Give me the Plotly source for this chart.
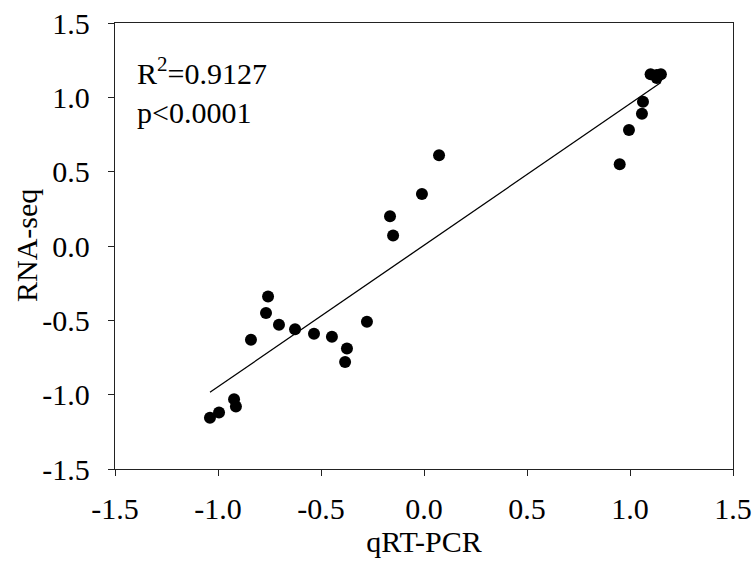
import numpy as np
import plotly.graph_objects as go

qrt_pcr = [-1.039, -0.995, -0.922, -0.913, -0.840, -0.767, -0.757, -0.704, -0.626,
           -0.534, -0.447, -0.374, -0.383, -0.277, -0.165, -0.150, -0.010, 0.073,
           0.950, 0.995, 1.058, 1.063, 1.100, 1.130, 1.150, 1.130]
rna_seq = [-1.155, -1.120, -1.030, -1.080, -0.630, -0.450, -0.340, -0.530, -0.560,
           -0.590, -0.610, -0.690, -0.780, -0.510, 0.200, 0.070, 0.350, 0.610,
           0.550, 0.780, 0.890, 0.970, 1.155, 1.150, 1.155, 1.130]
tick_vals = [-1.5, -1.0, -0.5, 0.0, 0.5, 1.0, 1.5]
tick_text = ["-1.5", "-1.0", "-0.5", "0.0", "0.5", "1.0", "1.5"]

slope, intercept = np.polyfit(qrt_pcr, rna_seq, 1)
xl = np.array([min(qrt_pcr), max(qrt_pcr)])
yl = slope * xl + intercept

FONT = "Liberation Serif"
FS = 30

fig = go.Figure()
fig.add_trace(go.Scatter(x=xl, y=yl, mode="lines",
                         line=dict(color="black", width=1.3), showlegend=False))
fig.add_trace(go.Scatter(x=qrt_pcr, y=rna_seq, mode="markers",
                         marker=dict(color="black", size=12), showlegend=False))

axis_common = dict(range=[-1.5, 1.5], tickvals=tick_vals, ticktext=tick_text,
                   showgrid=False, zeroline=False, showline=True, linecolor="#222",
                   linewidth=1.3, mirror=True, ticks="outside", ticklen=6,
                   tickcolor="#222", tickwidth=1.2, ticklabeloverflow="allow",
                   automargin=False,
                   tickfont=dict(family=FONT, size=FS, color="black"))
fig.update_xaxes(**axis_common, ticklabelstandoff=7,
                 title=dict(text="qRT-PCR", font=dict(family=FONT, size=FS, color="black"), standoff=4))
fig.update_yaxes(**axis_common, ticklabelstandoff=12)

fig.add_annotation(xref="paper", yref="paper", x=-0.144, y=0.5, xanchor="center", yanchor="middle",
                   text="RNA-seq", textangle=-90, showarrow=False,
                   font=dict(family=FONT, size=FS, color="black"))
fig.add_annotation(xref="paper", yref="paper", x=0.033, y=0.94, xanchor="left", yanchor="top",
                   text="R<sup>2</sup>=0.9127<br>p&lt;0.0001", showarrow=False, align="left",
                   font=dict(family=FONT, size=FS, color="black"))

fig.update_layout(width=755, height=568, margin=dict(l=115, r=22, t=23, b=99, autoexpand=False),
                  plot_bgcolor="white", paper_bgcolor="white")
fig.write_html("out.html", config={"displayModeBar": False},
               post_script="document.body.style.margin='0';document.body.style.overflow='hidden';")
